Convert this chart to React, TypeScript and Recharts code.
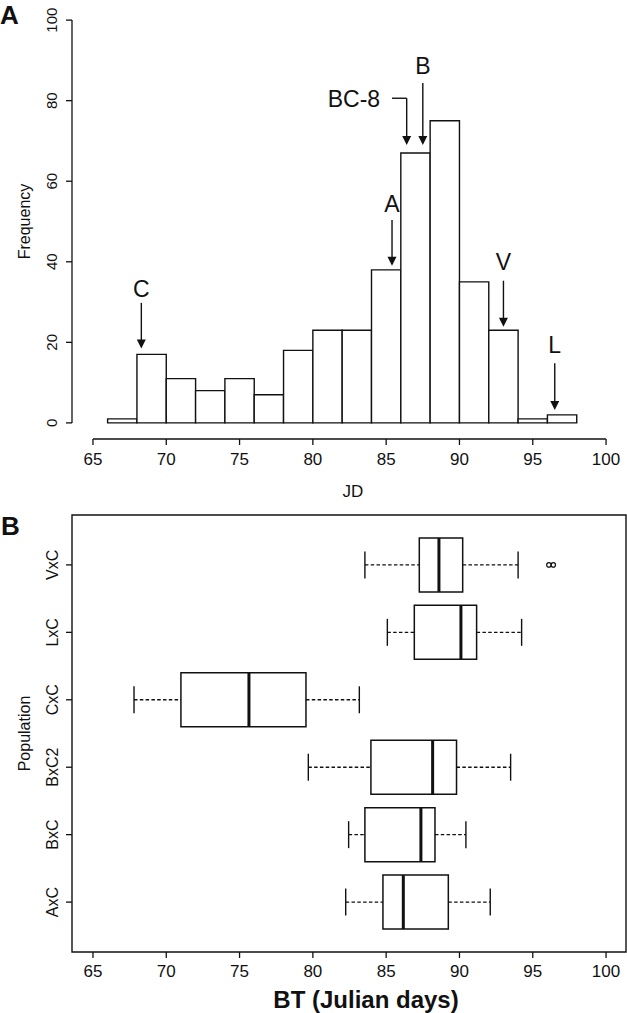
import { ComposedChart, XAxis, YAxis, ReferenceArea, ReferenceLine, ReferenceDot, Label } from 'recharts';

// panel A: histogram of JD, bins of width 2
const binStart = [66, 68, 70, 72, 74, 76, 78, 80, 82, 84, 86, 88, 90, 92, 94, 96];
const binCount = [1, 17, 11, 8, 11, 7, 18, 23, 23, 38, 67, 75, 35, 23, 1, 2];
const binWidth = 2;
const jdTicks = [65, 70, 75, 80, 85, 90, 95, 100];
const freqTicks = [0, 20, 40, 60, 80, 100];

// arrows pointing at parents in panel A
const markerNames = ['C', 'A', 'BC-8', 'B', 'V', 'L'];
const markerX = [68.3, 85.4, 86.4, 87.5, 93.0, 96.5];
const arrowTop = [29.8, 50.4, 80.6, 84.4, 35.3, 14.8];
const arrowTip = [18.5, 39, 69, 69, 23.9, 3.2];
const labelX = [68.3, 85.4, 82.8, 87.5, 93.0, 96.5];
const labelY = [33.2, 54.3, 80.6, 88.6, 40, 19.4];
const elbowStart = 85.4; // BC-8 leader starts here

// panel B: boxplots, bottom to top
const populations = ['AxC', 'BxC', 'BxC2', 'CxC', 'LxC', 'VxC'];
const popTicks = [1, 2, 3, 4, 5, 6];
const whiskerLow = [82.24, 82.44, 79.69, 67.8, 85.08, 83.55];
const q1 = [84.78, 83.55, 83.96, 71.0, 86.92, 87.26];
const median = [86.17, 87.37, 88.17, 75.64, 90.1, 88.6];
const q3 = [89.24, 88.33, 89.8, 79.53, 91.17, 90.22];
const whiskerHigh = [92.1, 90.44, 93.49, 83.17, 94.24, 94.0];
const outlierPop = ['VxC', 'VxC'];
const outlierValue = [96.1, 96.4];

const xDomain: [number, number] = [63.57, 101.36];
const freqDomain: [number, number] = [-4, 104];
const popDomain: [number, number] = [0.26, 6.74];

const ink = '#111';
const font = '"Liberation Sans", Arial, sans-serif';

const bins = binStart.map((s, i) => ({ start: s, end: s + binWidth, count: binCount[i] }));
const boxes = populations.map((p, i) => ({
  pop: p,
  pos: i + 1,
  lo: whiskerLow[i],
  q1: q1[i],
  med: median[i],
  q3: q3[i],
  hi: whiskerHigh[i],
}));

function RotatedTick(props: any) {
  const { x, y, payload, fontSize, format } = props;
  const v = format ? format(payload.value) : payload.value;
  return (
    <text x={x} y={y} transform={`rotate(-90, ${x}, ${y})`} textAnchor="middle" fontSize={fontSize} fill={ink} fontFamily={font}>
      {v}
    </text>
  );
}

function SideTitle(props: any) {
  const { viewBox, value, dx } = props;
  const x = viewBox.x + dx;
  const y = viewBox.y + viewBox.height / 2;
  return (
    <text x={x} y={y} transform={`rotate(-90, ${x}, ${y})`} textAnchor="middle" fontSize={16} fill={ink} fontFamily={font}>
      {value}
    </text>
  );
}

function BottomTitle(props: any) {
  const { viewBox, value, dy, dx, size, bold } = props;
  return (
    <text x={viewBox.x + viewBox.width / 2 + dx} y={viewBox.y + dy} textAnchor="middle" fontSize={size} fontWeight={bold ? 'bold' : 'normal'} fill={ink} fontFamily={font}>
      {value}
    </text>
  );
}

function Arrow(props: any) {
  const { x1, y1, x2, y2 } = props;
  const head = 9;
  const half = 4.5;
  return (
    <g>
      <line x1={x1} y1={y1} x2={x2} y2={y2 - head + 1} stroke={ink} strokeWidth={1.4} />
      <polygon points={`${x2 - half},${y2 - head} ${x2 + half},${y2 - head} ${x2},${y2}`} fill={ink} />
    </g>
  );
}

function Letter({ text, top, left }: { text: string; top: number; left: number }) {
  return (
    <div style={{ position: 'absolute', top, left, fontFamily: font, fontWeight: 'bold', fontSize: 26, lineHeight: '26px', color: ink }}>
      {text}
    </div>
  );
}

function Histogram() {
  return (
    <ComposedChart width={627} height={510} data={bins} margin={{ top: 4, right: 1, bottom: 11, left: 12 }}>
      <XAxis
        type="number"
        dataKey="start"
        domain={xDomain}
        ticks={jdTicks}
        interval={0}
        allowDataOverflow
        axisLine={false}
        tickSize={6}
        tickMargin={8}
        tickLine={{ stroke: ink, strokeWidth: 1.3 }}
        tick={{ fill: ink, fontSize: 17, fontFamily: font }}
        height={60}
      >
        <Label content={(p: any) => <BottomTitle {...p} value="JD" dx={4} dy={58} size={17} />} />
      </XAxis>
      <YAxis
        type="number"
        dataKey="count"
        domain={freqDomain}
        ticks={freqTicks}
        interval={0}
        allowDataOverflow
        width={60}
        axisLine={false}
        tickSize={6}
        tickMargin={9}
        tickLine={{ stroke: ink, strokeWidth: 1.3 }}
        tick={(p: any) => <RotatedTick {...p} fontSize={15} />}
      >
        <Label content={(p: any) => <SideTitle {...p} value="Frequency" dx={18} />} />
      </YAxis>
      <ReferenceLine segment={[{ x: 65, y: freqDomain[0] }, { x: 100, y: freqDomain[0] }]} stroke={ink} strokeWidth={1.3} ifOverflow="visible" />
      <ReferenceLine segment={[{ x: xDomain[0], y: 0 }, { x: xDomain[0], y: 100 }]} stroke={ink} strokeWidth={1.3} ifOverflow="visible" />
      {bins.map((b) => (
        <ReferenceArea
          key={b.start}
          x1={b.start}
          x2={b.end}
          y1={0}
          y2={b.count}
          fill="#fff"
          fillOpacity={1}
          stroke={ink}
          strokeWidth={1.4}
          ifOverflow="visible"
        />
      ))}
      <ReferenceLine segment={[{ x: elbowStart, y: arrowTop[2] }, { x: markerX[2], y: arrowTop[2] }]} stroke={ink} strokeWidth={1.4} ifOverflow="visible" />
      {markerNames.map((m, i) => (
        <ReferenceLine
          key={'arr' + m}
          segment={[{ x: markerX[i], y: arrowTop[i] }, { x: markerX[i], y: arrowTip[i] }]}
          shape={(p: any) => <Arrow {...p} />}
          ifOverflow="visible"
        />
      ))}
      {markerNames.map((m, i) => (
        <ReferenceDot
          key={'lab' + m}
          x={labelX[i]}
          y={labelY[i]}
          r={0}
          ifOverflow="visible"
          shape={(p: any) => (
            <text x={p.cx} y={p.cy} dy="0.36em" textAnchor="middle" fontSize={23} fill={ink} fontFamily={font}>
              {m}
            </text>
          )}
        />
      ))}
    </ComposedChart>
  );
}

function BoxPlot() {
  return (
    <ComposedChart width={627} height={523} data={boxes} margin={{ top: 25, right: 1, bottom: 6, left: 12 }}>
      <XAxis
        type="number"
        dataKey="med"
        domain={xDomain}
        ticks={jdTicks}
        interval={0}
        allowDataOverflow
        axisLine={false}
        tickSize={6}
        tickMargin={7}
        tickLine={{ stroke: ink, strokeWidth: 1.3 }}
        tick={{ fill: ink, fontSize: 17, fontFamily: font }}
        height={55}
      >
        <Label content={(p: any) => <BottomTitle {...p} value="BT (Julian days)" dx={17} dy={56} size={24} bold />} />
      </XAxis>
      <YAxis
        type="number"
        dataKey="pos"
        domain={popDomain}
        ticks={popTicks}
        interval={0}
        allowDataOverflow
        width={60}
        axisLine={false}
        tickSize={6}
        tickMargin={8}
        tickLine={{ stroke: ink, strokeWidth: 1.3 }}
        tick={(p: any) => <RotatedTick {...p} fontSize={16} format={(v: number) => populations[v - 1]} />}
      >
        <Label content={(p: any) => <SideTitle {...p} value="Population" dx={18} />} />
      </YAxis>
      <ReferenceArea x1={xDomain[0]} x2={xDomain[1]} y1={popDomain[0]} y2={popDomain[1]} fill="none" stroke={ink} strokeWidth={1.4} ifOverflow="visible" />
      {boxes.map((b) => [
        <ReferenceLine key={b.pop + 'wl'} segment={[{ x: b.lo, y: b.pos }, { x: b.q1, y: b.pos }]} stroke={ink} strokeWidth={1.4} strokeDasharray="3.5 2.3" ifOverflow="visible" />,
        <ReferenceLine key={b.pop + 'wh'} segment={[{ x: b.q3, y: b.pos }, { x: b.hi, y: b.pos }]} stroke={ink} strokeWidth={1.4} strokeDasharray="3.5 2.3" ifOverflow="visible" />,
        <ReferenceLine key={b.pop + 'cl'} segment={[{ x: b.lo, y: b.pos - 0.2 }, { x: b.lo, y: b.pos + 0.2 }]} stroke={ink} strokeWidth={1.4} ifOverflow="visible" />,
        <ReferenceLine key={b.pop + 'ch'} segment={[{ x: b.hi, y: b.pos - 0.2 }, { x: b.hi, y: b.pos + 0.2 }]} stroke={ink} strokeWidth={1.4} ifOverflow="visible" />,
        <ReferenceArea key={b.pop + 'box'} x1={b.q1} x2={b.q3} y1={b.pos - 0.4} y2={b.pos + 0.4} fill="#fff" fillOpacity={1} stroke={ink} strokeWidth={1.5} ifOverflow="visible" />,
        <ReferenceLine key={b.pop + 'med'} segment={[{ x: b.med, y: b.pos - 0.4 }, { x: b.med, y: b.pos + 0.4 }]} stroke={ink} strokeWidth={3} ifOverflow="visible" />,
      ])}
      {outlierValue.map((v, i) => (
        <ReferenceDot
          key={'out' + i}
          x={v}
          y={populations.indexOf(outlierPop[i]) + 1}
          r={2.2}
          fill="none"
          stroke={ink}
          strokeWidth={1.2}
          ifOverflow="visible"
        />
      ))}
    </ComposedChart>
  );
}

export default function App() {
  return (
    <div style={{ position: 'absolute', top: 0, left: 0, width: 627, height: 1013, background: '#fff', overflow: 'hidden' }}>
      <div style={{ position: 'absolute', top: 0, left: 0 }}>
        <Histogram />
      </div>
      <div style={{ position: 'absolute', top: 490, left: 0 }}>
        <BoxPlot />
      </div>
      <Letter text="A" top={2} left={0} />
      <Letter text="B" top={513} left={1} />
    </div>
  );
}
